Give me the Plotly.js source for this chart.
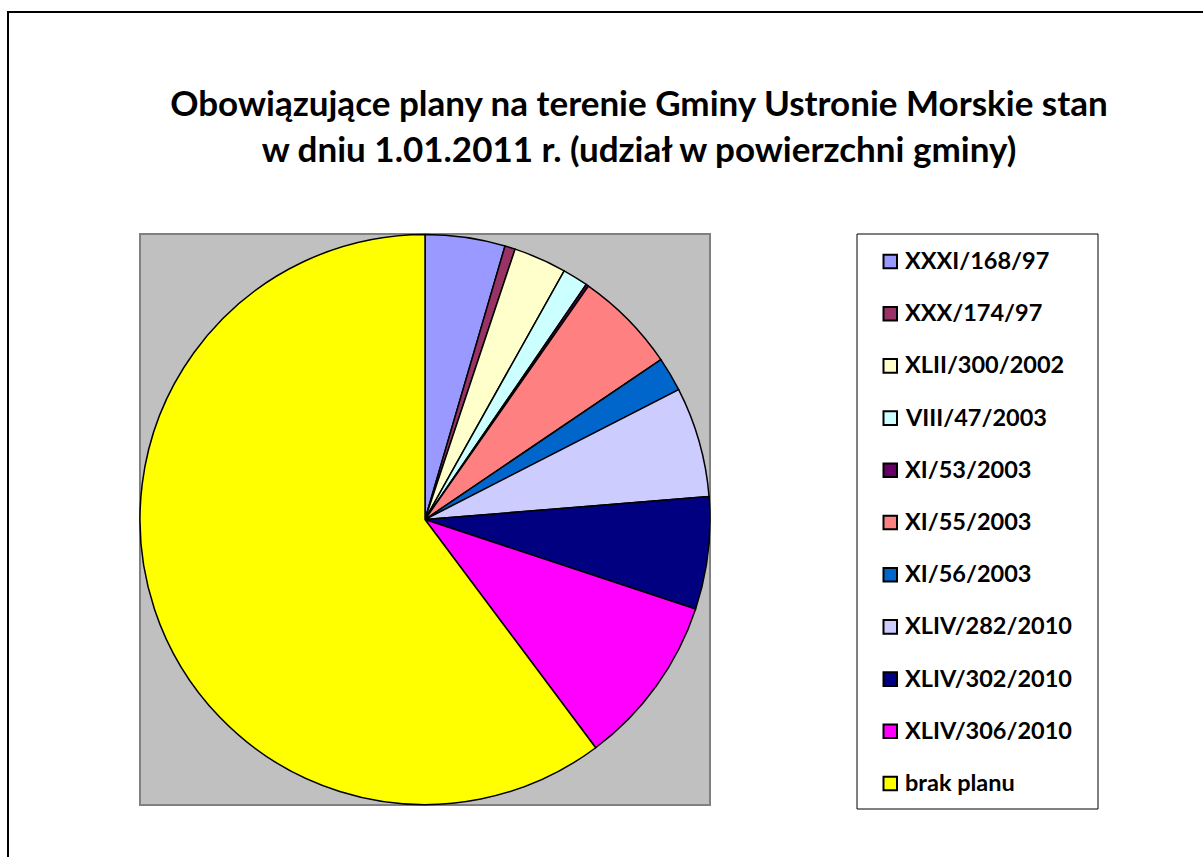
<!DOCTYPE html>
<html>
<head>
<meta charset="utf-8">
<script src="https://cdn.plot.ly/plotly-3.0.1.min.js"></script>
<style>html,body{margin:0;padding:0;background:#fff;}#chart{width:1203px;height:857px;}</style>
</head>
<body>
<div id="chart"></div>
<script>
const labels = ["XXXI/168/97","XXX/174/97","XLII/300/2002","VIII/47/2003","XI/53/2003","XI/55/2003","XI/56/2003","XLIV/282/2010","XLIV/302/2010","XLIV/306/2010","brak planu"];
const shares = [4.53, 0.59, 3.0, 1.45, 0.15, 5.8, 1.95, 6.25, 6.36, 9.7, 60.22];
const colors = ["#9999FF","#993366","#FFFFCC","#CCFFFF","#660066","#FF8080","#0066CC","#CCCCFF","#000080","#FF00FF","#FFFF00"];
const titleText = "Obowiązujące plany na terenie Gminy Ustronie Morskie stan<br>w dniu 1.01.2011 r. (udział w powierzchni gminy)";

const W = 1203, H = 857;
const px = x => x / W;
const py = y => 1 - y / H;

const shapes = [
  {type:'rect', xref:'paper', yref:'paper', x0:px(8), y0:py(12), x1:px(1220), y1:py(880), line:{color:'#000', width:2}, fillcolor:'rgba(0,0,0,0)', layer:'below'},
  {type:'rect', xref:'paper', yref:'paper', x0:px(140), y0:py(234), x1:px(710), y1:py(805), line:{color:'#808080', width:2}, fillcolor:'#C0C0C0', layer:'below'},
  {type:'rect', xref:'paper', yref:'paper', x0:px(857), y0:py(234), x1:px(1098), y1:py(809), line:{color:'#000', width:1}, fillcolor:'#fff', layer:'below'}
];
const annotations = [];
labels.forEach((lab, i) => {
  const yc = 261.5 + i * 52.2;
  shapes.push({type:'rect', xref:'paper', yref:'paper', x0:px(883.5), x1:px(897), y0:py(yc-6.8), y1:py(yc+6.8), line:{color:'#000', width:2}, fillcolor:colors[i]});
  annotations.push({xref:'paper', yref:'paper', x:px(903), y:py(yc-1.5), xanchor:'left', yanchor:'middle', showarrow:false, text:'<b>'+lab+'</b>', font:{family:'Lato, sans-serif', size:23.5, color:'#000', weight:900}});
});

const data = [{
  type:'pie', labels:labels, values:shares, sort:false, direction:'clockwise', rotation:0,
  marker:{colors:colors, line:{color:'#000', width:1.5}},
  textinfo:'none', hoverinfo:'label+percent', showlegend:false,
  domain:{x:[px(140), px(710)], y:[py(805), py(234)]}
}];

const layout = {
  width:W, height:H, margin:{l:0,r:0,t:0,b:0},
  paper_bgcolor:'#fff', plot_bgcolor:'#fff', showlegend:false,
  title:{text:'<b>'+titleText+'</b>', x:px(639), xanchor:'center', xref:'paper', yref:'container', y:py(116), yanchor:'middle', font:{family:'Lato, sans-serif', size:35, color:'#000', weight:900}},
  shapes:shapes, annotations:annotations
};
Plotly.newPlot('chart', data, layout, {displayModeBar:false, staticPlot:true});
</script>
</body>
</html>
